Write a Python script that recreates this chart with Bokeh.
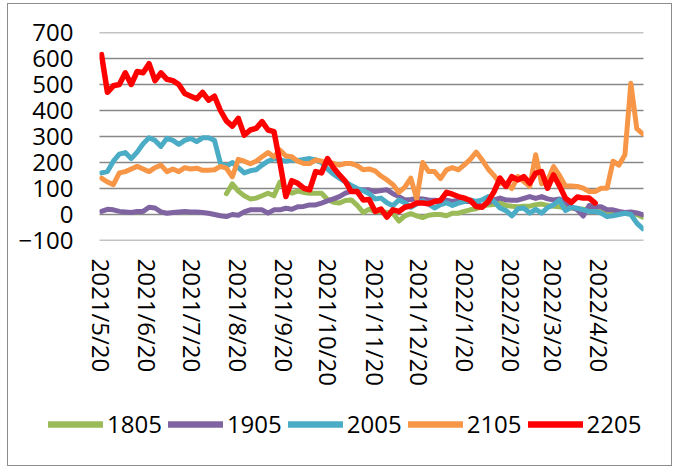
import pandas as pd
from bokeh.plotting import figure
from bokeh.layouts import column
from bokeh.models import (Range1d, FixedTicker, Legend, LegendItem,
                          ColumnDataSource)
from bokeh.embed import file_html
from bokeh.resources import INLINE

# ---------------- data ----------------
start_date = "2021-05-20"      # first observation
step_days = 4                  # spacing of the sampled observations

series_names = ["1805", "1905", "2005", "2105", "2205"]
series_colors = ["#9BBB59", "#8064A2", "#4BACC6", "#F79646", "#FF0000"]

# index of first observation of each series on the common date grid
series_start_index = [21, 0, 0, 0, 0]

v1805 = [80, 118, 90, 72, 60, 63, 72, 82, 72, 125, 95, 82, 90, 85, 82, 82, 82, 58, 47, 44,
         54, 56, 35, 8, 20, 12, 12, 8, 5, -25, -5, 3, -5, -12, -3, 0, 0, -5, 5, 5,
         12, 18, 22, 31, 37, 38, 44, 35, 32, 30, 32, 32, 38, 40, 35, 32, 30, 25, 25, 22,
         20, 18, 12, 12, 10, 6, 8, 5, 5, 0, -10]

v1905 = [12, 20, 18, 12, 10, 8, 12, 12, 28, 25, 10, 5, 8, 10, 12, 10, 10, 8, 5, 0, -5, -8, 0,
         -3, 10, 18, 18, 18, 5, 18, 18, 24, 20, 30, 31, 37, 37, 44, 52, 60, 69, 82, 90, 95, 95,
         95, 88, 92, 95, 80, 69, 56, 58, 62, 60, 56, 55, 52, 55, 50, 55, 50, 50, 40, 32, 45, 56, 63,
         56, 55, 55, 62, 69, 62, 69, 60, 56, 60, 48, 28, 18, -6, 35, 30, 30, 18, 18, 12, 8, 10, 6, -1]

v2005 = [160, 165, 205, 232, 238, 215, 240, 272, 295, 285, 262, 293, 285, 270, 285, 293, 280, 295, 295, 285, 197, 185, 200,
         180, 160, 168, 172, 190, 205, 215, 210, 205, 210, 208, 212, 215, 210, 200, 175, 155, 140, 125, 112, 100, 92,
         80, 60, 63, 45, 34, 56, 45, 28, 40, 52, 40, 25, 38, 45, 35, 44, 50, 56, 50, 56, 69, 50, 25,
         15, -5, 22, 25, 5, 20, 5, 27, 37, 56, 15, 28, 24, 18, 12, 12, 5, -8, -5, 0, 5, 0, -33, -55]

v2105 = [140, 125, 115, 160, 165, 175, 185, 175, 165, 180, 190, 165, 175, 165, 180, 175, 178, 170, 170, 172, 185, 178, 145,
         212, 205, 195, 205, 222, 238, 222, 248, 225, 222, 205, 196, 196, 210, 205, 197, 197, 190, 196, 196, 188, 172,
         175, 168, 148, 133, 115, 85, 105, 140, 60, 200, 165, 165, 138, 172, 180, 172, 191, 212, 240, 210, 175, 150, 120,
         118, 100, 146, 127, 108, 230, 118, 130, 184, 150, 110, 110, 108, 101, 88, 88, 101, 101, 205, 190, 230, 505, 330, 310]

v2205 = [615, 470, 495, 500, 545, 500, 550, 545, 580, 515, 545, 520, 515, 500, 465, 455, 445, 470, 440, 455, 400, 360, 340,
         370, 305, 325, 331, 357, 325, 319, 200, 69, 130, 120, 101, 95, 165, 160, 215, 180, 152, 127, 88, 88, 56,
         58, 12, 21, -10, 18, 12, 28, 33, 44, 44, 41, 50, 54, 85, 78, 69, 63, 54, 31, 28, 50, 88, 140,
         108, 146, 133, 146, 120, 159, 165, 101, 152, 110, 63, 46, 67, 63, 63, 44]

series_values = [v1805, v1905, v2005, v2105, v2205]

y_ticks = [-100, 0, 100, 200, 300, 400, 500, 600, 700]
x_tick_labels = ["2021/5/20", "2021/6/20", "2021/7/20", "2021/8/20", "2021/9/20",
                 "2021/10/20", "2021/11/20", "2021/12/20", "2022/1/20", "2022/2/20",
                 "2022/3/20", "2022/4/20"]

# ---------------- figures ----------------
FONT = "Open Sans"
FONT_SIZE = "24px"
GRID_COLOR = "#888888"
W = 663
H1, H2 = 396, 65

def ms(ts):
    return pd.Timestamp(ts).value / 1e6

x_start, x_end = ms("2021-05-18 16:00"), ms("2022-05-19 12:00")
x0 = pd.Timestamp(start_date)
p = figure(width=W, height=H1, x_axis_type="datetime", output_backend="svg",
           toolbar_location=None,
           x_range=Range1d(x_start, x_end),
           y_range=Range1d(-100, 700),
           min_border_left=91, min_border_right=28, min_border_top=28, min_border_bottom=160)
p.frame_align = False
p.outline_line_color = None
p.background_fill_color = None
p.border_fill_color = None
p.xgrid.visible = False
p.ygrid.visible = False

# an off-range first glyph (nothing visible), so the first real drawing is not lost
p.line([x_start, x_end], [5000, 5000], line_color=GRID_COLOR, line_width=1)

# horizontal gridlines at the y ticks: one serpentine path whose turns lie outside
# the visible x range (so they are clipped away), drawn before the series
pad = 30 * 86400000.0
gx, gy = [], []
for i, t in enumerate(y_ticks):
    ends = [x_start - pad, x_end + pad] if i % 2 == 0 else [x_end + pad, x_start - pad]
    gx += ends
    gy += [t, t]
p.line(gx, gy, line_color=GRID_COLOR, line_width=1.7, line_join="miter")

line_widths = {"2205": 5.5}
for name, color, s_idx, vals in zip(series_names, series_colors, series_start_index, series_values):
    dates = [x0 + pd.Timedelta(days=step_days * (s_idx + k)) for k in range(len(vals))]
    src = ColumnDataSource(dict(x=dates, y=vals))
    p.line("x", "y", source=src, line_color=color, line_width=line_widths.get(name, 5),
           line_join="round", line_cap="round")

# axes
tick_ms = [ms(lbl.replace("/", "-")) for lbl in x_tick_labels]
p.xaxis.ticker = FixedTicker(ticks=tick_ms, minor_ticks=[])
p.xaxis.major_label_overrides = {t: lbl for t, lbl in zip(tick_ms, x_tick_labels)}
p.xaxis.major_label_orientation = "vertical"
p.yaxis.ticker = FixedTicker(ticks=y_ticks, minor_ticks=[])
for ax in (p.xaxis[0], p.yaxis[0]):
    ax.axis_line_color = None
    ax.major_tick_line_color = None
    ax.minor_tick_line_color = None
    ax.major_tick_out = 0
    ax.major_tick_in = 0
    ax.major_label_text_font = FONT
    ax.major_label_text_font_size = FONT_SIZE
    ax.major_label_text_color = "#000000"
p.yaxis.major_label_standoff = 26
p.xaxis.major_label_standoff = 18

# legend panel (second figure whose frame is the whole canvas)
pl = figure(width=W, height=H2, output_backend="svg", toolbar_location=None,
            x_range=Range1d(0, 1), y_range=Range1d(0, 1),
            x_axis_location=None, y_axis_location=None,
            min_border_left=0, min_border_right=0, min_border_top=0, min_border_bottom=0)
pl.frame_align = False
pl.outline_line_color = None
pl.background_fill_color = None
pl.border_fill_color = None
pl.xgrid.visible = False
pl.ygrid.visible = False
leg_renderers = []
for name, color in zip(series_names, series_colors):
    # off-range dummy line: only its style is used by the legend
    leg_renderers.append(pl.line(x=[5, 6], y=[5, 6], line_color=color,
                                 line_width=6.5, line_cap="round"))
legend = Legend(items=[LegendItem(label=n, renderers=[r]) for n, r in zip(series_names, leg_renderers)],
                location=(40, 25), orientation="horizontal",
                glyph_width=55, glyph_height=20, label_standoff=4, spacing=6,
                padding=0, margin=0, border_line_color=None, background_fill_alpha=0,
                label_text_font=FONT, label_text_font_size=FONT_SIZE,
                label_text_color="#000000")
pl.add_layout(legend, "center")

layout = column(p, pl, spacing=0,
                styles={"border": "1.5px solid #8c8c8c", "box-sizing": "content-box",
                        "margin": "3px 0 0 7px"})

open("out.html", "w").write(file_html(layout, INLINE))
